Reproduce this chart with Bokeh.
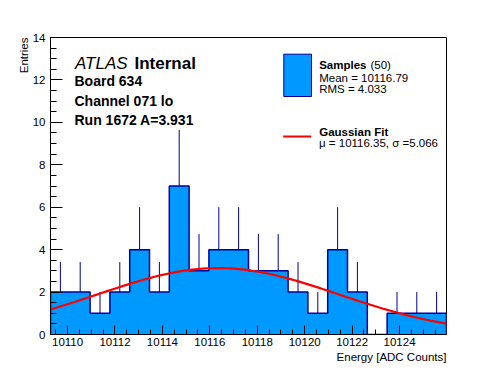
import numpy as np
from bokeh.plotting import figure
from bokeh.models import Label, SingleIntervalTicker, Range1d, Title
from bokeh.embed import file_html
from bokeh.resources import INLINE

# ---------------- data ----------------
X_MIN, X_MAX = 10109.28, 10125.98
N_BINS = 20
counts = [2, 2, 1, 2, 4, 2, 7, 3, 4, 4, 3, 3, 2, 1, 4, 2, 0, 1, 1, 1]
fit_mu = 10116.35
fit_sigma = 5.066
fit_amp = 3.13
Y_MAX = 14

title_lines = ["Board 634", "Channel 071 lo", "Run 1672 A=3.931"]
legend_samples = ["Mean = 10116.79", "RMS = 4.033"]
legend_fit = "\u03bc = 10116.35, \u03c3 =5.066"
x_title = "Energy [ADC Counts]"
y_title = "Entries"

FONT = "Liberation Sans"
FILL = "#0099ff"
NAVY = "#000099"

# ---------------- geometry ----------------
W, H = 496, 372
BL, BR, BT, BB = 50, 50, 37, 38
FL, FR, FT, FB = BL, W - BR, BT, H - BB


def dx(px):
    return X_MIN + (px - FL) / (FR - FL) * (X_MAX - X_MIN)


def dy(py):
    return Y_MAX * (FB - py) / (FB - FT)


p = figure(width=W, height=H, x_range=Range1d(X_MIN, X_MAX), y_range=Range1d(0, Y_MAX),
           output_backend="svg", toolbar_location=None,
           min_border_left=BL, min_border_right=BR, min_border_top=BT, min_border_bottom=BB)
p.grid.visible = False
p.outline_line_color = "black"
p.outline_line_width = 1
p.background_fill_color = "white"
p.border_fill_color = "white"

# ---------------- histogram ----------------
edges = np.linspace(X_MIN, X_MAX, N_BINS + 1)
c = np.array(counts, dtype=float)
centers = 0.5 * (edges[:-1] + edges[1:])
p.varea_step(x=edges, y1=np.zeros(N_BINS + 1), y2=np.append(c, c[-1]), step_mode="after", fill_color=FILL)

xs, ys = [edges[0]], [0]
for i in range(N_BINS):
    xs += [edges[i], edges[i + 1]]
    ys += [c[i], c[i]]
xs.append(edges[-1])
ys.append(0)
p.line(xs, ys, line_color=NAVY, line_width=1.5)

m = c > 0
p.segment(x0=centers[m], y0=c[m], x1=centers[m], y1=c[m] + np.sqrt(c[m]), line_color=NAVY, line_width=1)

# ---------------- fit ----------------
xf = np.linspace(X_MIN, X_MAX, 100)
yf = fit_amp * np.exp(-0.5 * ((xf - fit_mu) / fit_sigma) ** 2)
p.line(xf, yf, line_color="red", line_width=2.2)

# ---------------- axes ----------------
for ax, tin, mtin, so in ((p.xaxis, 9, 5, 3), (p.yaxis, 12, 6, 5)):
    ax.ticker = SingleIntervalTicker(interval=2, num_minor_ticks=4)
    ax.major_tick_in = tin
    ax.major_tick_out = 0
    ax.minor_tick_in = mtin
    ax.minor_tick_out = 0
    ax.axis_line_color = "black"
    ax.major_tick_line_color = "black"
    ax.minor_tick_line_color = "black"
    ax.major_label_text_font = FONT
    ax.major_label_text_font_size = "11.5px"
    ax.major_label_text_color = "black"
    ax.major_label_standoff = so

p.add_layout(Title(text=x_title, align="right", standoff=0, text_font=FONT, text_font_size="11.5px",
                   text_font_style="normal", text_color="black"), "below")
p.add_layout(Title(text=y_title, align="right", standoff=0, text_font=FONT, text_font_size="11.5px",
                   text_font_style="normal", text_color="black"), "left")


def lab(px, py, text, size, style="normal", align="left", angle=0):
    p.add_layout(Label(x=dx(px), y=dy(py), text=text, text_font=FONT, text_font_size=size,
                       text_font_style=style, text_align=align, text_baseline="alphabetic",
                       text_color="black", angle=angle))


# ATLAS block
lab(74.5, 63, "ATLAS", "17px", style="italic")
lab(134, 63, "Internal", "17px", style="bold")
for t, yb in zip(title_lines, [80.7, 100, 119]):
    lab(74, yb, t, "14px", style="bold")

# legend
p.quad(left=dx(283.3), right=dx(311), top=dy(53.7), bottom=dy(96), fill_color=FILL, line_color=NAVY, line_width=1)
lab(318.7, 64.3, "Samples", "11.5px", style="bold")
lab(370, 64.3, "(50)", "11.5px")
lab(318.7, 77.3, legend_samples[0], "11.5px")
lab(318.7, 88.5, legend_samples[1], "11.5px")
p.line([dx(282.7), dx(310.7)], [dy(136), dy(136)], line_color="red", line_width=2.2)
lab(318.7, 131, "Gaussian Fit", "11.5px", style="bold")
lab(318.5, 142.7, legend_fit, "11.5px")

open("out.html", "w").write(file_html(p, INLINE))
